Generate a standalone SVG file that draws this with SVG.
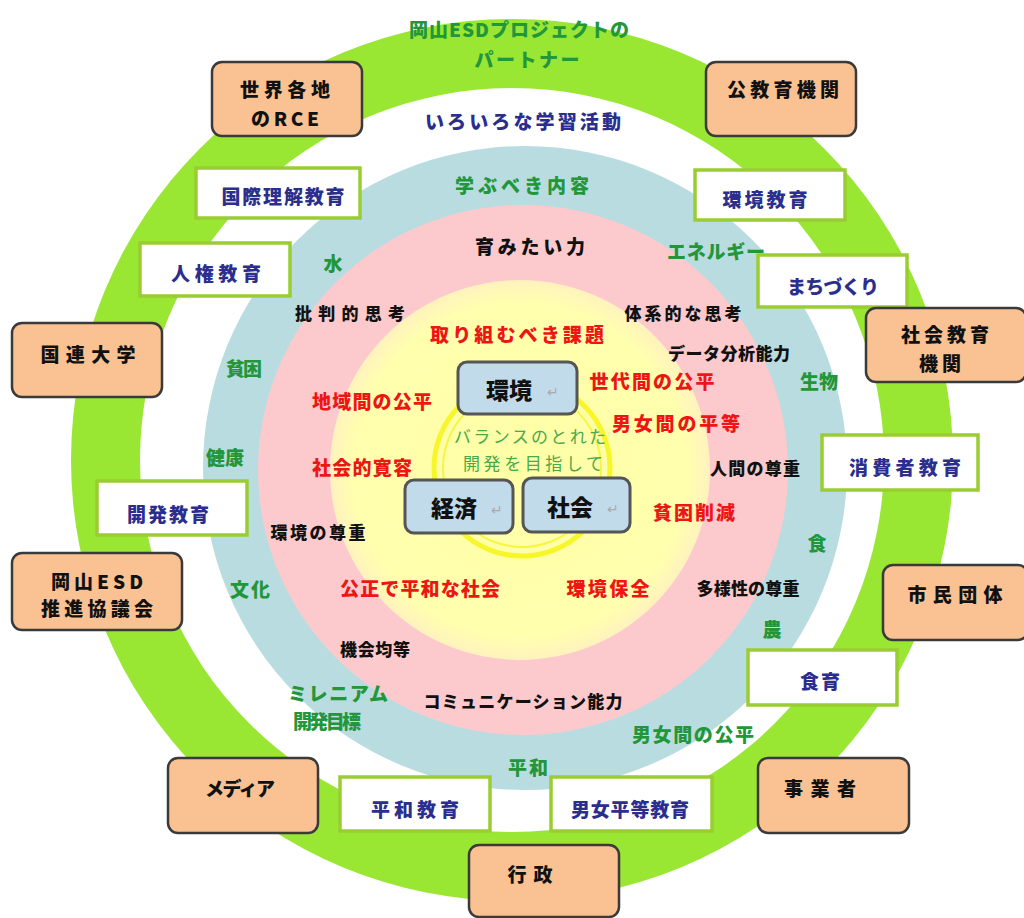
<svg xmlns="http://www.w3.org/2000/svg" width="1024" height="918" viewBox="0 0 1024 918">
<defs>
<radialGradient id="yg" cx="0.5" cy="0.5" r="0.5">
<stop offset="0" stop-color="#FFFFA6"/>
<stop offset="0.88" stop-color="#FFFFAE"/>
<stop offset="1" stop-color="#FFF2BE"/>
</radialGradient>
<style>
text{font-family:"Noto Sans CJK JP","Noto Sans CJK SC",sans-serif;font-weight:900;dominant-baseline:central;text-anchor:middle}
.g{fill:#23963A;font-size:19px}
.r{fill:#EE1515;font-size:19px}
.k{fill:#111;font-size:17px}
.kb{fill:#111;font-size:19px}
.n{fill:#2B2E8C;font-size:19px}
.ob{fill:#FAC192;stroke:#3a3a3a;stroke-width:2.5}
.wb{fill:#fff;stroke:#9ACD32;stroke-width:3.5}
.cb{fill:#C2DBEA;stroke:#555;stroke-width:3}
.ot{fill:#111;font-size:19px}
.ct{fill:#111;font-size:23px}
.pm{fill:#aaa;font-size:14px;font-weight:normal}
.bal{fill:#4AA84A;font-size:17px;font-weight:normal}
</style>
</defs>
<rect width="1024" height="918" fill="#fff"/>
<g id="rings">
<circle cx="512" cy="460" r="441" fill="#99E633"/>
<circle cx="512" cy="460" r="372" fill="#fff"/>
<circle cx="525" cy="468" r="322" fill="#B9DCE1"/>
<circle cx="523" cy="470" r="265" fill="#FCCACC"/>
<circle cx="520" cy="470" r="190" fill="url(#yg)"/>
<circle cx="522" cy="468" r="88" fill="none" stroke="#F6F62A" stroke-width="5"/>
<circle cx="522" cy="468" r="79" fill="none" stroke="#F6F640" stroke-width="2"/>
</g>
<g id="ring-labels">
<text class="g" x="519" y="28" textLength="220">岡山ESDプロジェクトの</text>
<text class="g" x="527" y="58" textLength="105">パートナー</text>
<text class="n" x="523" y="120" textLength="196">いろいろな学習活動</text>
<text class="g" x="522" y="184" textLength="134">学ぶべき内容</text>
<text class="kb" x="530" y="245" textLength="110">育みたい力</text>
<text class="r" x="517" y="333" textLength="174">取り組むべき課題</text>
</g>
<g id="center">
<text class="bal" x="530" y="435" textLength="152">バランスのとれた</text>
<text class="bal" x="533" y="462" textLength="140">開発を目指して</text>
</g>
<g id="node-kankyo">
<rect class="cb" x="458" y="362" width="119" height="52" rx="9"/>
<text class="ct" x="509" y="389">環境</text><text class="pm" x="553" y="391">↵</text>
</g>
<g id="node-keizai">
<rect class="cb" x="405" y="480" width="108" height="53" rx="9"/>
<text class="ct" x="454" y="507">経済</text><text class="pm" x="497" y="509">↵</text>
</g>
<g id="node-shakai">
<rect class="cb" x="523" y="478" width="107" height="54" rx="9"/>
<text class="ct" x="570" y="506">社会</text><text class="pm" x="613" y="508">↵</text>
</g>
<g id="content-labels">
<text class="g" x="333" y="262">水</text>
<text class="g" x="716" y="250" textLength="98">エネルギー</text>
<text class="g" x="819" y="380" textLength="38">生物</text>
<text class="g" x="244" y="367" textLength="36">貧困</text>
<text class="g" x="225" y="456" textLength="38">健康</text>
<text class="g" x="250" y="588" textLength="40">文化</text>
<text class="g" x="817" y="542">食</text>
<text class="g" x="772" y="628">農</text>
<text class="g" x="338" y="692" textLength="100">ミレニアム</text>
<text class="g" x="327" y="720" textLength="68">開発目標</text>
<text class="g" x="693" y="733" textLength="122">男女間の公平</text>
<text class="g" x="528" y="766" textLength="40">平和</text>
</g>
<g id="issue-labels">
<text class="r" x="372" y="400" textLength="120">地域間の公平</text>
<text class="r" x="652" y="380" textLength="125">世代間の公平</text>
<text class="r" x="676" y="422" textLength="128">男女間の平等</text>
<text class="r" x="362" y="466" textLength="100">社会的寛容</text>
<text class="r" x="694" y="511" textLength="82">貧困削減</text>
<text class="r" x="420" y="587" textLength="160">公正で平和な社会</text>
<text class="r" x="608" y="587" textLength="83">環境保全</text>
</g>
<g id="skill-labels">
<text class="k" x="350" y="312" textLength="110">批判的思考</text>
<text class="k" x="683" y="312" textLength="117">体系的な思考</text>
<text class="k" x="729" y="352" textLength="122">データ分析能力</text>
<text class="k" x="755" y="467" textLength="90">人間の尊重</text>
<text class="k" x="318" y="531" textLength="95">環境の尊重</text>
<text class="k" x="748" y="587" textLength="103">多様性の尊重</text>
<text class="k" x="375" y="648" textLength="70">機会均等</text>
<text class="k" x="523" y="700" textLength="199">コミュニケーション能力</text>
</g>
<g id="node-kokusairikai"><rect class="wb" x="196" y="168" width="164" height="50"/><text class="n" x="283" y="195" textLength="123">国際理解教育</text></g>
<g id="node-kankyokyoiku"><rect class="wb" x="695" y="170" width="150" height="50"/><text class="n" x="765" y="198" textLength="85">環境教育</text></g>
<g id="node-jinken"><rect class="wb" x="140" y="243" width="150" height="53"/><text class="n" x="216" y="272" textLength="90">人権教育</text></g>
<g id="node-machizukuri"><rect class="wb" x="758" y="255" width="149" height="52"/><text class="n" x="833" y="285" textLength="92">まちづくり</text></g>
<g id="node-shohisha"><rect class="wb" x="822" y="435" width="156" height="55"/><text class="n" x="905" y="466" textLength="112">消費者教育</text></g>
<g id="node-kaihatsu"><rect class="wb" x="97" y="481" width="150" height="54"/><text class="n" x="168" y="513" textLength="82">開発教育</text></g>
<g id="node-shokuiku"><rect class="wb" x="748" y="650" width="149" height="55"/><text class="n" x="820" y="680" textLength="40">食育</text></g>
<g id="node-heiwa"><rect class="wb" x="340" y="777" width="150" height="54"/><text class="n" x="415" y="808" textLength="88">平和教育</text></g>
<g id="node-danjo"><rect class="wb" x="551" y="777" width="161" height="54"/><text class="n" x="630" y="808" textLength="118">男女平等教育</text></g>
<g id="node-rce"><rect class="ob" x="212" y="62" width="150" height="74" rx="10"/><text class="ot" x="285" y="88" textLength="90">世界各地</text><text class="ot" x="285" y="117" textLength="68">のRCE</text></g>
<g id="node-koukyouiku"><rect class="ob" x="706" y="62" width="150" height="74" rx="10"/><text class="ot" x="783" y="88" textLength="112">公教育機関</text></g>
<g id="node-kokuren"><rect class="ob" x="12" y="323" width="150" height="74" rx="10"/><text class="ot" x="88" y="353" textLength="95">国連大学</text></g>
<g id="node-shakaikyouiku"><rect class="ob" x="866" y="308" width="160" height="74" rx="10"/><text class="ot" x="945" y="333" textLength="88">社会教育</text><text class="ot" x="940" y="362" textLength="42">機関</text></g>
<g id="node-okayama"><rect class="ob" x="12" y="553" width="170" height="77" rx="10"/><text class="ot" x="97" y="580" textLength="92">岡山ESD</text><text class="ot" x="97" y="607" textLength="112">推進協議会</text></g>
<g id="node-shimin"><rect class="ob" x="883" y="565" width="145" height="75" rx="10"/><text class="ot" x="955" y="593" textLength="95">市民団体</text></g>
<g id="node-media"><rect class="ob" x="168" y="758" width="150" height="75" rx="10"/><text class="ot" x="240" y="787" textLength="70">メディア</text></g>
<g id="node-jigyousha"><rect class="ob" x="758" y="758" width="151" height="75" rx="10"/><text class="ot" x="820" y="787" textLength="72">事業者</text></g>
<g id="node-gyousei"><rect class="ob" x="469" y="845" width="150" height="72" rx="10"/><text class="ot" x="530" y="873" textLength="45">行政</text></g>
<g id="connectors"/>
</svg>
